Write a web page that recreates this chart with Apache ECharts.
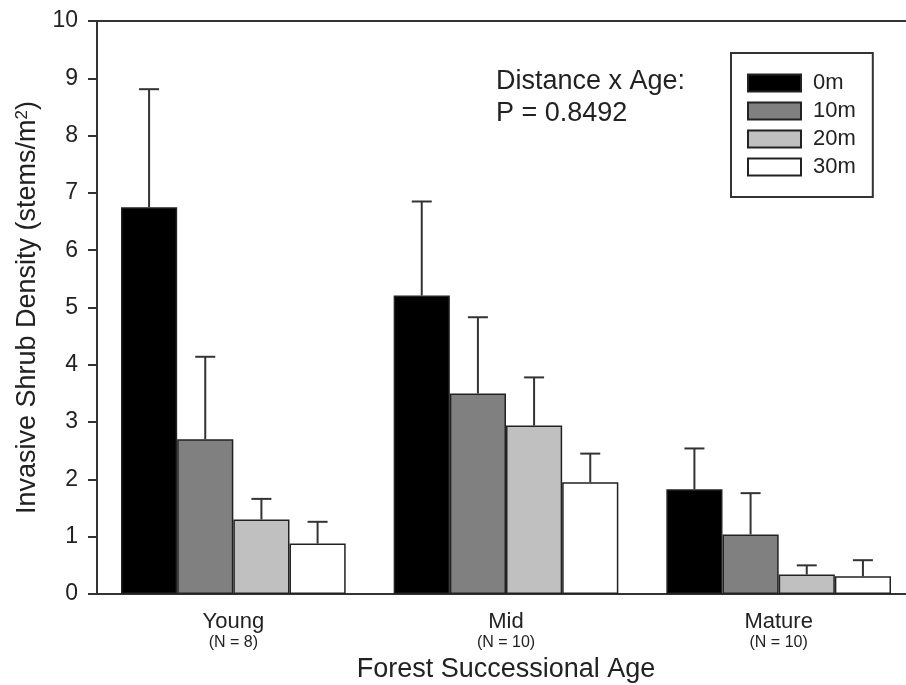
<!DOCTYPE html>
<html>
<head>
<meta charset="utf-8">
<script src="https://cdn.jsdelivr.net/npm/echarts@6/dist/echarts.min.js"></script>
<style>
  html, body { margin: 0; padding: 0; background: #fff; }
  #chart { width: 906px; height: 685px; }
</style>
</head>
<body>
<div id="chart"></div>
<script>
// categories and sample sizes
const ages = ['Young', 'Mid', 'Mature'];
const sampleSizes = ['(N = 8)', '(N = 10)', '(N = 10)'];
const distances = ['0m', '10m', '20m', '30m'];

// mean density per distance (Young, Mid, Mature)
const mean0m = [6.75, 5.21, 1.83];
const mean10m = [2.70, 3.50, 1.04];
const mean20m = [1.30, 2.94, 0.34];
const mean30m = [0.88, 1.95, 0.31];

// standard error (upper bar only)
const se0m = [2.06, 1.64, 0.71];
const se10m = [1.44, 1.33, 0.72];
const se20m = [0.36, 0.84, 0.16];
const se30m = [0.38, 0.50, 0.28];

const means = [mean0m, mean10m, mean20m, mean30m];
const errors = [se0m, se10m, se20m, se30m];
const fills = ['#000000', '#808080', '#c0c0c0', '#ffffff'];

const CAT_GAP = 0.176;
const FONT = 'Liberation Sans, Arial, Helvetica, sans-serif';
const INK = '#222';

const chart = echarts.init(document.getElementById('chart'));

// 柱子
const barSeries = distances.map((name, i) => ({
  name: name,
  type: 'bar',
  data: means[i],
  barGap: '0%',
  barCategoryGap: (CAT_GAP * 100) + '%',
  itemStyle: {
    color: fills[i],
    borderColor: '#222',
    borderWidth: 1.5
  },
  emphasis: {disabled: true},
  z: 3
}));

// 误差线数据 [category, mean, se, seriesIndex]
const errData = [];
means.forEach((arr, s) => {
  arr.forEach((m, c) => errData.push([c, m, errors[s][c], s]));
});

const errorSeries = {
  name: 'error',
  type: 'custom',
  silent: true,
  z: 2,
  data: errData,
  renderItem: (params, api) => {
    const c = api.value(0);
    const m = api.value(1);
    const e = api.value(2);
    const s = api.value(3);
    const band = api.size([1, 0])[0];
    const bw = band * (1 - CAT_GAP) / 4;
    const center = api.coord([c, m]);
    const top = api.coord([c, m + e]);
    const x = center[0] + (s - 1.5) * bw;
    const cap = 10;
    const style = {stroke: '#333', lineWidth: 2};
    return {
      type: 'group',
      children: [
        {type: 'line', shape: {x1: x, y1: center[1], x2: x, y2: top[1]}, style: style},
        {type: 'line', shape: {x1: x - cap, y1: top[1], x2: x + cap, y2: top[1]}, style: style}
      ]
    };
  }
};

const axisLineStyle = {color: '#333', width: 2};

const option = {
  backgroundColor: '#fff',
  animation: false,
  textStyle: {fontFamily: FONT},
  grid: {
    left: 97,
    top: 21,
    width: 818,
    height: 573,
    outerBoundsMode: 'none'
  },
  legend: {
    data: distances,
    orient: 'vertical',
    icon: 'rect',
    left: 731,
    top: 53,
    padding: [19, 17, 19, 16],
    itemWidth: 53,
    itemHeight: 17,
    itemGap: 6,
    borderColor: '#333',
    borderWidth: 2,
    selectedMode: false,
    textStyle: {
      fontSize: 22,
      color: INK,
      fontFamily: FONT,
      padding: [0, 0, 0, 7]
    }
  },
  graphic: [
    {
      type: 'text',
      left: 496,
      top: 66,
      style: {
        text: 'Distance x Age:\nP = 0.8492',
        fontSize: 27,
        lineHeight: 32,
        fill: INK,
        fontFamily: FONT
      }
    }
  ],
  xAxis: [
    {
      type: 'category',
      data: ages,
      name: 'Forest Successional Age',
      nameLocation: 'middle',
      nameGap: 62,
      nameTextStyle: {fontSize: 27, color: INK, fontFamily: FONT},
      axisLine: {lineStyle: axisLineStyle},
      axisTick: {alignWithLabel: true, length: 9, lineStyle: axisLineStyle},
      axisLabel: {
        margin: 14,
        interval: 0,
        formatter: (val, idx) => '{main|' + val + '}\n{n|' + sampleSizes[idx] + '}',
        rich: {
          main: {fontSize: 22, color: INK, fontFamily: FONT, lineHeight: 27},
          n: {fontSize: 16, color: INK, fontFamily: FONT, lineHeight: 16}
        }
      },
      splitLine: {show: false}
    },
    {
      // 顶部边框线
      type: 'category',
      data: ages,
      position: 'top',
      axisLine: {show: true, lineStyle: axisLineStyle},
      axisTick: {show: false},
      axisLabel: {show: false},
      splitLine: {show: false}
    }
  ],
  yAxis: {
    type: 'value',
    min: 0,
    max: 10,
    interval: 1,
    name: 'Invasive Shrub Density (stems/m{sup|2})',
    nameLocation: 'middle',
    nameGap: 54,
    nameTextStyle: {
      fontSize: 27,
      color: INK,
      fontFamily: FONT,
      rich: {
        sup: {fontSize: 17, verticalAlign: 'top', color: INK, fontFamily: FONT, padding: [0, 0, 12, 0]}
      }
    },
    axisLine: {show: true, lineStyle: axisLineStyle},
    axisTick: {show: true, length: 9, lineStyle: axisLineStyle},
    axisLabel: {fontSize: 23, color: INK, margin: 19, fontFamily: FONT},
    splitLine: {show: false}
  },
  series: [...barSeries, errorSeries]
};

chart.setOption(option);
</script>
</body>
</html>
